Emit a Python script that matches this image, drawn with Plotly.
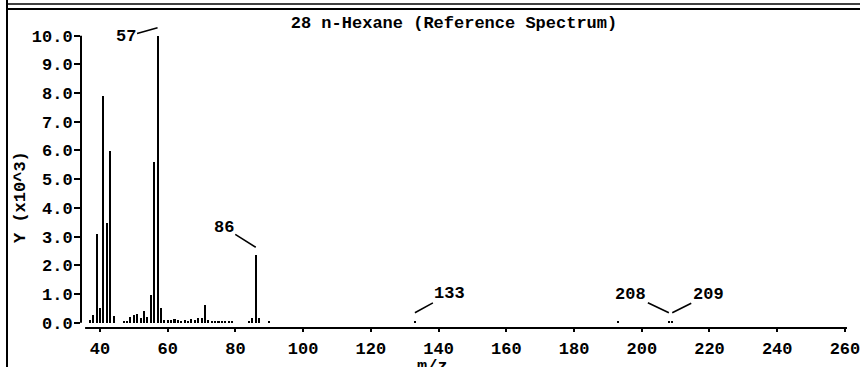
import plotly.graph_objects as go

# ---- data (intensity in units of 10^3) ----
mz = [37, 38, 39, 40, 41, 42, 43, 44,
      47, 48, 49, 50, 51, 52, 53, 54, 55, 56, 57, 58,
      59, 60, 61, 62, 63, 64, 65, 66, 67, 68, 69, 70, 71, 72,
      73, 74, 75, 76, 77, 78, 79,
      84, 85, 86, 87, 90, 133, 193, 208, 209]
intensity = [0.10, 0.27, 3.10, 0.50, 7.91, 3.46, 5.99, 0.22,
             0.07, 0.07, 0.20, 0.28, 0.30, 0.15, 0.40, 0.20, 0.95, 5.61, 10.00, 0.52,
             0.08, 0.08, 0.10, 0.12, 0.10, 0.07, 0.10, 0.07, 0.12, 0.10, 0.15, 0.18, 0.62, 0.10,
             0.07, 0.07, 0.07, 0.07, 0.07, 0.07, 0.07,
             0.07, 0.15, 2.35, 0.18, 0.07, 0.07, 0.07, 0.07, 0.07]
labeled_peaks = [57, 86, 133, 208, 209]
x_ticks = [40, 60, 80, 100, 120, 140, 160, 180, 200, 220, 240, 260]
y_ticks = [0, 1, 2, 3, 4, 5, 6, 7, 8, 9, 10]
title_text = "28 n-Hexane (Reference Spectrum)"
y_title = "Y (x10^3)"
x_title = "m/z"

# ---- geometry ----
W, H = 860, 367
L, R, T, B = 81, 13, 30, 39
PW, PH = W - L - R, H - T - B

def px(x):
    return (x - L) / PW

def py(y):
    return (H - B - y) / PH

FONT = dict(family="Liberation Mono", size=17, color="black", weight="bold")

fig = go.Figure(go.Bar(
    x=mz, y=intensity, width=0.6,
    marker=dict(color="black", line=dict(width=0)),
    cliponaxis=False, hoverinfo="x+y",
))

# label offsets (pixels, text centre relative to arrow tip)
label_offsets = {57: (-32, 9), 86: (-32, -20), 133: (35, -19), 208: (-38, -18), 209: (36, -18)}
annotations = []
for m in labeled_peaks:
    v = intensity[mz.index(m)]
    ax, ay = label_offsets[m]
    annotations.append(dict(
        x=m, y=v, xref="x", yref="y", text=str(m), showarrow=True,
        arrowhead=0, arrowwidth=1.6, arrowcolor="black", ax=ax, ay=ay,
        yshift=8, standoff=0, font=FONT,
    ))

annotations += [
    dict(x=px(20), y=py(197), xref="paper", yref="paper", text=y_title,
         textangle=-90, showarrow=False, font=FONT, xanchor="center", yanchor="middle"),
    dict(x=px(432), y=py(355), xref="paper", yref="paper", text=x_title,
         showarrow=False, font=FONT, xanchor="center", yanchor="top"),
    dict(x=px(430), y=py(7), xref="paper", yref="paper", text=x_title,
         showarrow=False, font=FONT, xanchor="center", yanchor="bottom"),
]

line = dict(color="black", width=2)
shapes = [
    # y axis line (0..10)
    dict(type="line", xref="paper", yref="y", x0=0, x1=0, y0=0, y1=10, line=line),
    # x axis line
    dict(type="line", xref="x", yref="paper", x0=35.6, x1=260.6, y0=0, y1=0, line=line),
    # frame
    dict(type="line", xref="paper", yref="paper", x0=px(7), x1=px(7), y0=py(0), y1=py(367), line=line),
    dict(type="line", xref="paper", yref="paper", x0=px(6), x1=px(860), y0=py(9), y1=py(9), line=line),
    dict(type="line", xref="paper", yref="paper", x0=px(6), x1=px(860), y0=py(4), y1=py(4),
         line=dict(color="black", width=1.5)),
]

fig.update_layout(
    width=W, height=H,
    margin=dict(l=L, r=R, t=T, b=B, pad=0),
    paper_bgcolor="white", plot_bgcolor="white",
    showlegend=False,
    title=dict(text=title_text, font=FONT, xref="container", yref="container",
               x=454 / W, y=1 - 22 / H, xanchor="center", yanchor="middle"),
    xaxis=dict(range=[34.39, 260.61], tickvals=x_ticks, ticks="outside", ticklen=3,
               tickwidth=2, tickcolor="black", showline=False, showgrid=False,
               zeroline=False, tickfont=FONT, ticklabelstandoff=2,
               ticklabeloverflow="allow", automargin=False),
    yaxis=dict(range=[-0.185, 10.198], tickvals=y_ticks,
               ticktext=[f"{v:.1f}" for v in y_ticks], ticks="outside", ticklen=6,
               tickwidth=2, tickcolor="black", showline=False, showgrid=False,
               zeroline=False, tickfont=FONT, ticklabelstandoff=-2,
               ticklabeloverflow="allow", automargin=False),
    shapes=shapes, annotations=annotations,
    bargap=0,
)

fig.write_html("out.html", config={"displayModeBar": False},
               post_script="document.body.style.margin='0';document.body.style.padding='0';")
